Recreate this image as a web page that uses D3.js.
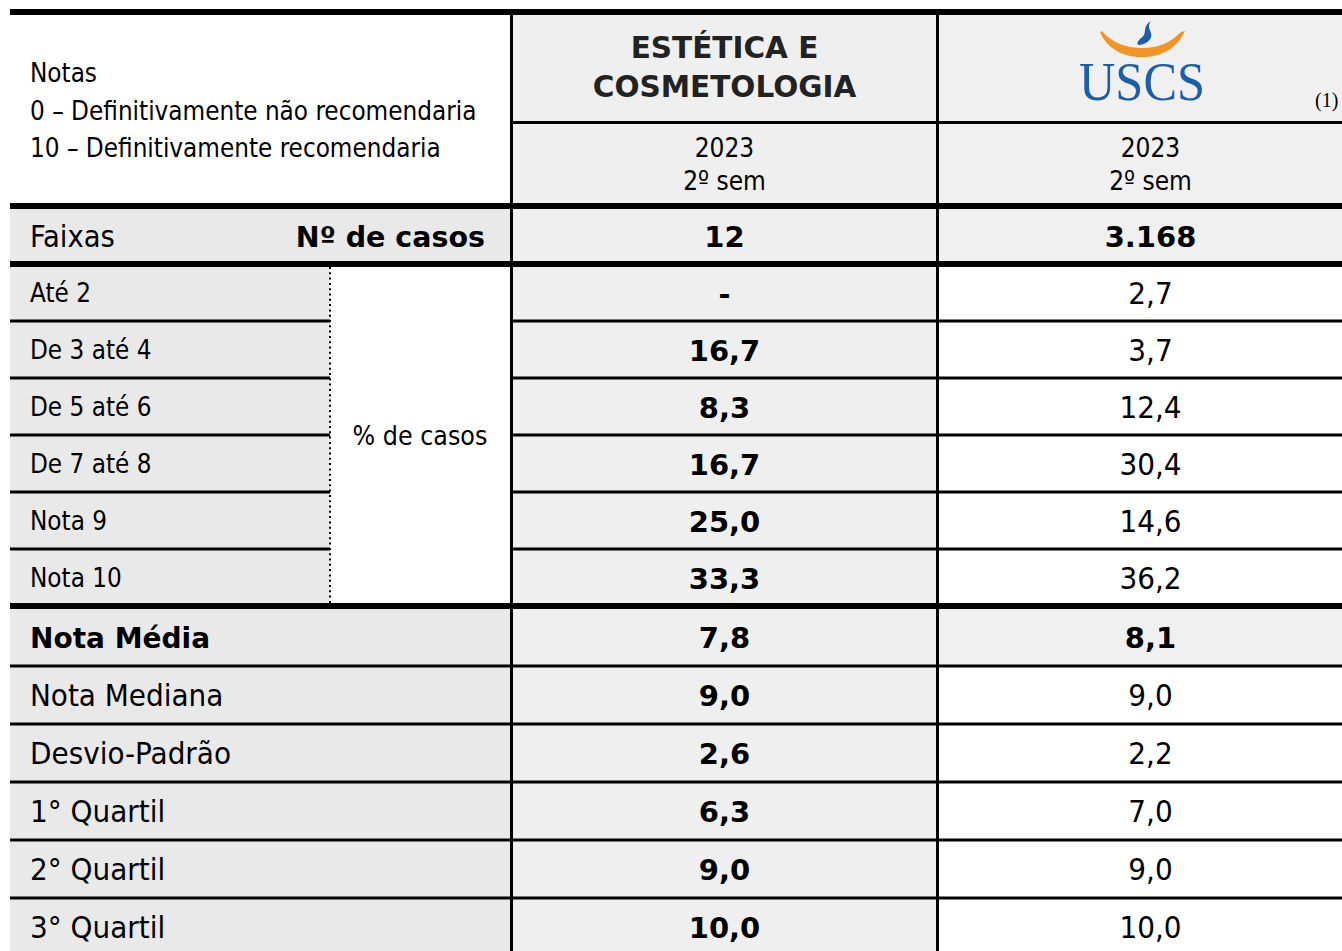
<!DOCTYPE html>
<html>
<head>
<meta charset="utf-8">
<script src="https://cdn.jsdelivr.net/npm/d3@7"></script>
<style>
  body { margin: 0; background: #fff; }
  text { font-family: "DejaVu Sans Condensed", "DejaVu Sans", sans-serif; fill: #000; }
  text.b { font-family: "DejaVu Sans", sans-serif; font-weight: bold; }
</style>
</head>
<body>
<script>
// dados da tabela
var notas = ["Notas", "0 \u2013 Definitivamente n\u00e3o recomendaria", "10 \u2013 Definitivamente recomendaria"];
var cursos = ["estetica", "uscs"];
var titulo = ["EST\u00c9TICA E", "COSMETOLOGIA"];
var periodo = ["2023", "2\u00ba sem"];
var casos = [12, 3168];
var faixas = ["At\u00e9 2", "De 3 at\u00e9 4", "De 5 at\u00e9 6", "De 7 at\u00e9 8", "Nota 9", "Nota 10"];
var esteticaPct = [null, 16.7, 8.3, 16.7, 25.0, 33.3];
var uscsPct = [2.7, 3.7, 12.4, 30.4, 14.6, 36.2];
var estatisticas = ["Nota M\u00e9dia", "Nota Mediana", "Desvio-Padr\u00e3o", "1\u00b0 Quartil", "2\u00b0 Quartil", "3\u00b0 Quartil"];
var esteticaStats = [7.8, 9.0, 2.6, 6.3, 9.0, 10.0];
var uscsStats = [8.1, 9.0, 2.2, 7.0, 9.0, 10.0];

var w = 1342, h = 951;
var left = 10, labelSplit = 330;

var br = d3.formatLocale({decimal: ",", thousands: ".", grouping: [3], currency: ["R$", ""]});
var fmt1 = br.format(",.1f");
var fmtInt = br.format(",d");

var x = d3.scaleBand().domain(cursos).range([511.5, 1363.5]);
var yPct = d3.scaleBand().domain(faixas).range([264, 606]);
var yStat = d3.scaleBand().domain(estatisticas).range([608, 956]);

var svg = d3.select("body").append("svg")
  .attr("width", w)
  .attr("height", h);

var bgLabel = "#e9e9e9", bgCol = "#efefef", bgHead = "#f0f0f0";

// fundos
svg.append("rect").attr("x", x("estetica")).attr("y", 12).attr("width", x.bandwidth()).attr("height", h).attr("fill", bgCol);
svg.append("rect").attr("x", x("uscs")).attr("y", 12).attr("width", x.bandwidth()).attr("height", 252).attr("fill", bgHead);
svg.append("rect").attr("x", left).attr("y", 206).attr("width", 501).attr("height", 58).attr("fill", bgLabel);
svg.selectAll(".bgfaixa").data(faixas).enter().append("rect")
  .attr("x", left).attr("y", function(d) { return yPct(d); })
  .attr("width", labelSplit - left).attr("height", yPct.bandwidth())
  .attr("fill", bgLabel);
svg.selectAll(".bgstat").data(estatisticas).enter().append("rect")
  .attr("x", left).attr("y", function(d) { return yStat(d); })
  .attr("width", 501).attr("height", yStat.bandwidth())
  .attr("fill", bgLabel);
svg.append("rect").attr("x", x("uscs")).attr("y", yStat(estatisticas[0])).attr("width", x.bandwidth()).attr("height", yStat.bandwidth()).attr("fill", bgHead);

// linhas
function hline(x1, x2, y, sw) {
  svg.append("line").attr("x1", x1).attr("x2", x2).attr("y1", y).attr("y2", y)
    .attr("stroke", "#000").attr("stroke-width", sw);
}
function vline(xx, y1, y2, sw) {
  svg.append("line").attr("x1", xx).attr("x2", xx).attr("y1", y1).attr("y2", y2)
    .attr("stroke", "#000").attr("stroke-width", sw);
}
var right = x("uscs") + x.bandwidth();
faixas.slice(1).forEach(function(d) {
  hline(left, labelSplit, yPct(d), 3);
  hline(x("estetica"), right, yPct(d), 3);
});
estatisticas.slice(1).forEach(function(d) { hline(left, right, yStat(d), 3); });
hline(x("estetica"), right, 122.5, 3);
svg.append("line").attr("x1", labelSplit).attr("x2", labelSplit).attr("y1", 267).attr("y2", 603)
  .attr("stroke", "#000").attr("stroke-width", 2).attr("stroke-dasharray", "2 3.3");
vline(x("estetica"), 12, h, 3);
vline(x("uscs"), 12, h, 3);
hline(left, right, 12, 6);
hline(left, right, 206, 6);
hline(left, right, 264, 6);
hline(left, right, 606, 6);

// cabeçalho esquerdo
svg.selectAll(".nota").data(notas).enter().append("text")
  .attr("x", 30).attr("y", function(d, i) { return 82 + i * 37.5; })
  .style("font-size", "25.8px").text(function(d) { return d; });

// cabeçalho curso
svg.selectAll(".tit").data(titulo).enter().append("text").attr("class", "b")
  .attr("x", x("estetica") + x.bandwidth() / 2).attr("y", function(d, i) { return 58 + i * 39; })
  .attr("text-anchor", "middle").style("font-size", "29.5px").style("fill", "#222")
  .text(function(d) { return d; });

// logo USCS
var logo = svg.append("g");
logo.append("path")
  .attr("d", "M1100,32 C1108,51 1127,58 1145,57 C1165,56 1178,46 1185,31 L1181,32 C1170,43 1158,48 1143,48 C1125,48 1111,42 1102,31 Z")
  .attr("fill", "#f39325");
logo.append("path")
  .attr("d", "M1151,21 C1143,26 1146,31 1144,35 C1141,39 1136,41 1138,45 C1146,45 1153,39 1151,33 C1150,29 1147,26 1151,21 Z")
  .attr("fill", "#1b5ea9");
logo.append("text").attr("x", 1079).attr("y", 100)
  .attr("textLength", 126).attr("lengthAdjust", "spacingAndGlyphs")
  .style("font-family", "'Liberation Serif', serif").style("font-size", "55px").style("fill", "#1b5ea9")
  .text("USCS");
svg.append("text").attr("x", 1315).attr("y", 107)
  .style("font-family", "'Liberation Serif', serif").style("font-size", "20px").text("(1)");

// período
cursos.forEach(function(c) {
  svg.selectAll(".per-" + c).data(periodo).enter().append("text")
    .attr("x", x(c) + x.bandwidth() / 2).attr("y", function(d, i) { return 157 + i * 33; })
    .attr("text-anchor", "middle").style("font-size", "26px")
    .text(function(d) { return d; });
});

// linha faixas / nº de casos
svg.append("text").attr("x", 30).attr("y", 247).style("font-size", "30.5px").text("Faixas");
svg.append("text").attr("class", "b").attr("x", 485).attr("y", 247).attr("text-anchor", "end")
  .style("font-size", "28.5px").text("N\u00ba de casos");
svg.selectAll(".casos").data(casos).enter().append("text").attr("class", "b")
  .attr("x", function(d, i) { return x(cursos[i]) + x.bandwidth() / 2; }).attr("y", 247)
  .attr("text-anchor", "middle").style("font-size", "29px")
  .text(function(d) { return fmtInt(d); });

// faixas
svg.selectAll(".faixa").data(faixas).enter().append("text")
  .attr("x", 30).attr("y", function(d) { return yPct(d) + yPct.bandwidth() / 2 + 9; })
  .style("font-size", "25.8px").text(function(d) { return d; });
svg.append("text").attr("x", 420).attr("y", 445).attr("text-anchor", "middle")
  .style("font-size", "26.5px").text("% de casos");

svg.selectAll(".pctE").data(esteticaPct).enter().append("text").attr("class", "b")
  .attr("x", x("estetica") + x.bandwidth() / 2)
  .attr("y", function(d, i) { return yPct(faixas[i]) + yPct.bandwidth() / 2 + 11; })
  .attr("text-anchor", "middle").style("font-size", "29px")
  .text(function(d) { return d == null ? "-" : fmt1(d); });
svg.selectAll(".pctU").data(uscsPct).enter().append("text")
  .attr("x", x("uscs") + x.bandwidth() / 2)
  .attr("y", function(d, i) { return yPct(faixas[i]) + yPct.bandwidth() / 2 + 11; })
  .attr("text-anchor", "middle").style("font-size", "31px")
  .text(function(d) { return fmt1(d); });

// estatísticas
svg.selectAll(".stat").data(estatisticas).enter().append("text")
  .attr("class", function(d, i) { return i === 0 ? "b" : null; })
  .attr("x", 30).attr("y", function(d) { return yStat(d) + yStat.bandwidth() / 2 + 11; })
  .style("font-size", function(d, i) { return i === 0 ? "28px" : "31px"; })
  .text(function(d) { return d; });
svg.selectAll(".statE").data(esteticaStats).enter().append("text").attr("class", "b")
  .attr("x", x("estetica") + x.bandwidth() / 2)
  .attr("y", function(d, i) { return yStat(estatisticas[i]) + yStat.bandwidth() / 2 + 11; })
  .attr("text-anchor", "middle").style("font-size", "29px")
  .text(function(d) { return fmt1(d); });
svg.selectAll(".statU").data(uscsStats).enter().append("text")
  .attr("class", function(d, i) { return i === 0 ? "b" : null; })
  .attr("x", x("uscs") + x.bandwidth() / 2)
  .attr("y", function(d, i) { return yStat(estatisticas[i]) + yStat.bandwidth() / 2 + 11; })
  .attr("text-anchor", "middle").style("font-size", function(d, i) { return i === 0 ? "29px" : "31px"; })
  .text(function(d) { return fmt1(d); });
</script>
</body>
</html>
